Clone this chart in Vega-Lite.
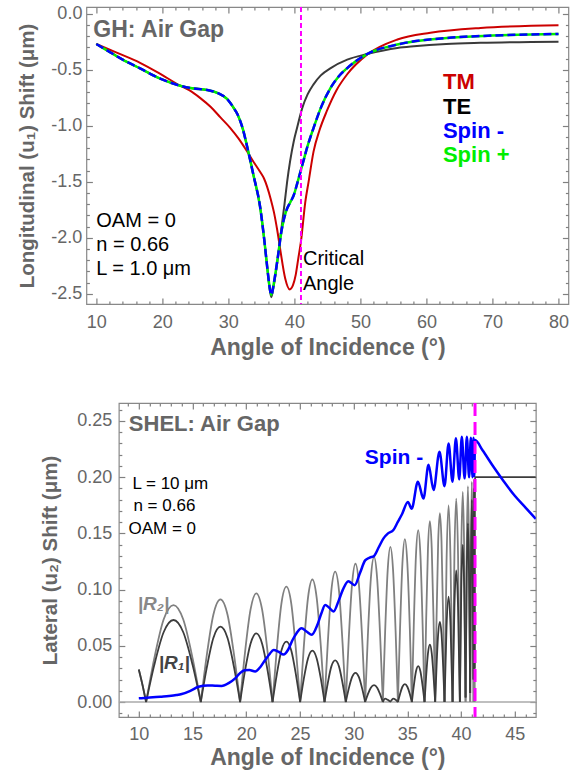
{
  "$schema": "https://vega.github.io/schema/vega-lite/v6.json",
  "padding": {"left": 17, "top": 4, "right": 5, "bottom": 5},
  "center": true,
  "spacing": 40,
  "config": {
    "font": "Liberation Sans",
    "view": {"stroke": "#888888", "strokeWidth": 1.2},
    "axis": {"grid": false, "domain": false, "tickColor": "#808080", "tickWidth": 1.2, "labelColor": "#666666", "labelFontSize": 18, "labelFont": "Liberation Sans", "labelFlush": false, "titleColor": "#666666", "titleFont": "Liberation Sans", "titleFontWeight": "bold"}
  },
  "datasets": {
    "gh": [
      {"s":"TM","x":10,"y":-0.27},{"s":"TM","x":13,"y":-0.345},{"s":"TM","x":16.7,"y":-0.44},{"s":"TM","x":19.5,"y":-0.53},{"s":"TM","x":22.7,"y":-0.642},{"s":"TM","x":24,"y":-0.68},{"s":"TM","x":25.8,"y":-0.755},{"s":"TM","x":27.3,"y":-0.83},{"s":"TM","x":28.8,"y":-0.925},{"s":"TM","x":30.3,"y":-1.02},{"s":"TM","x":31.5,"y":-1.11},{"s":"TM","x":32.8,"y":-1.225},{"s":"TM","x":33.8,"y":-1.32},{"s":"TM","x":34.8,"y":-1.41},{"s":"TM","x":35.4,"y":-1.47},{"s":"TM","x":36.4,"y":-1.65},{"s":"TM","x":36.9,"y":-1.77},{"s":"TM","x":37.4,"y":-1.93},{"s":"TM","x":37.9,"y":-2.12},{"s":"TM","x":38.6,"y":-2.36},{"s":"TM","x":39.3,"y":-2.46},{"s":"TM","x":39.8,"y":-2.42},{"s":"TM","x":40.2,"y":-2.33},{"s":"TM","x":40.6,"y":-2.18},{"s":"TM","x":41.0,"y":-2.03},{"s":"TM","x":41.65,"y":-1.68},{"s":"TM","x":42.15,"y":-1.5},{"s":"TM","x":42.9,"y":-1.23},{"s":"TM","x":43.8,"y":-1.04},{"s":"TM","x":44.9,"y":-0.87},{"s":"TM","x":46.4,"y":-0.68},{"s":"TM","x":48,"y":-0.54},{"s":"TM","x":51,"y":-0.365},{"s":"TM","x":55.6,"y":-0.23},{"s":"TM","x":60.6,"y":-0.17},{"s":"TM","x":68.2,"y":-0.127},{"s":"TM","x":80,"y":-0.103},
      {"s":"TE","x":10,"y":-0.27},{"s":"TE","x":12,"y":-0.34},{"s":"TE","x":14,"y":-0.41},{"s":"TE","x":16.7,"y":-0.49},{"s":"TE","x":19.5,"y":-0.575},{"s":"TE","x":22.7,"y":-0.642},{"s":"TE","x":24.5,"y":-0.665},{"s":"TE","x":26.8,"y":-0.68},{"s":"TE","x":28.5,"y":-0.71},{"s":"TE","x":29.8,"y":-0.76},{"s":"TE","x":30.8,"y":-0.84},{"s":"TE","x":31.4,"y":-0.9},{"s":"TE","x":32.2,"y":-1.03},{"s":"TE","x":32.9,"y":-1.2},{"s":"TE","x":33.8,"y":-1.44},{"s":"TE","x":34.8,"y":-1.72},{"s":"TE","x":35.5,"y":-2.05},{"s":"TE","x":35.9,"y":-2.27},{"s":"TE","x":36.2,"y":-2.43},{"s":"TE","x":36.5,"y":-2.53},{"s":"TE","x":36.9,"y":-2.42},{"s":"TE","x":37.4,"y":-2.22},{"s":"TE","x":37.9,"y":-1.98},{"s":"TE","x":38.5,"y":-1.7},{"s":"TE","x":38.9,"y":-1.5},{"s":"TE","x":39.9,"y":-1.14},{"s":"TE","x":40.4,"y":-1.02},{"s":"TE","x":41.2,"y":-0.84},{"s":"TE","x":42,"y":-0.72},{"s":"TE","x":42.9,"y":-0.63},{"s":"TE","x":44,"y":-0.55},{"s":"TE","x":45.5,"y":-0.485},{"s":"TE","x":48,"y":-0.41},{"s":"TE","x":51,"y":-0.36},{"s":"TE","x":55.6,"y":-0.305},{"s":"TE","x":58.1,"y":-0.29},{"s":"TE","x":63,"y":-0.27},{"s":"TE","x":68.2,"y":-0.26},{"s":"TE","x":80,"y":-0.25},
      {"s":"Spin","x":10,"y":-0.27},{"s":"Spin","x":12,"y":-0.34},{"s":"Spin","x":14,"y":-0.41},{"s":"Spin","x":16.7,"y":-0.49},{"s":"Spin","x":19.5,"y":-0.575},{"s":"Spin","x":22.7,"y":-0.642},{"s":"Spin","x":24.5,"y":-0.665},{"s":"Spin","x":26.8,"y":-0.68},{"s":"Spin","x":28.5,"y":-0.71},{"s":"Spin","x":29.8,"y":-0.76},{"s":"Spin","x":30.8,"y":-0.84},{"s":"Spin","x":31.4,"y":-0.9},{"s":"Spin","x":32.2,"y":-1.03},{"s":"Spin","x":32.9,"y":-1.2},{"s":"Spin","x":33.8,"y":-1.44},{"s":"Spin","x":34.8,"y":-1.72},{"s":"Spin","x":35.5,"y":-2.05},{"s":"Spin","x":35.9,"y":-2.27},{"s":"Spin","x":36.2,"y":-2.42},{"s":"Spin","x":36.5,"y":-2.51},{"s":"Spin","x":36.9,"y":-2.4},{"s":"Spin","x":37.4,"y":-2.21},{"s":"Spin","x":38.1,"y":-1.92},{"s":"Spin","x":38.7,"y":-1.77},{"s":"Spin","x":39.4,"y":-1.68},{"s":"Spin","x":39.9,"y":-1.62},{"s":"Spin","x":40.4,"y":-1.52},{"s":"Spin","x":41.2,"y":-1.35},{"s":"Spin","x":42,"y":-1.18},{"s":"Spin","x":42.9,"y":-1.02},{"s":"Spin","x":44,"y":-0.84},{"s":"Spin","x":45.5,"y":-0.66},{"s":"Spin","x":46.7,"y":-0.56},{"s":"Spin","x":48,"y":-0.485},{"s":"Spin","x":51,"y":-0.36},{"s":"Spin","x":55.6,"y":-0.275},{"s":"Spin","x":63.1,"y":-0.216},{"s":"Spin","x":70,"y":-0.195},{"s":"Spin","x":80,"y":-0.18}
    ],
    "shel": [
      {"a":0,"x":10,"r1":0.029,"r2":0.029},{"a":0,"x":10.35,"r1":0.015,"r2":0.015},{"a":0,"x":10.68,"r1":0,"r2":0},
      {"a":1,"x":10.68,"r1":0,"r2":0},{"a":1,"x":11.44,"r1":0.0329,"r2":0.0388},{"a":1,"x":12.31,"r1":0.0621,"r2":0.0734},{"a":1,"x":13.23,"r1":0.073,"r2":0.0863},{"a":1,"x":14.14,"r1":0.0621,"r2":0.0734},{"a":1,"x":15.01,"r1":0.0329,"r2":0.0388},{"a":1,"x":15.77,"r1":0,"r2":0},
      {"a":2,"x":15.77,"r1":0,"r2":0},{"a":2,"x":16.32,"r1":0.0302,"r2":0.0411},{"a":2,"x":16.94,"r1":0.057,"r2":0.0777},{"a":2,"x":17.6,"r1":0.067,"r2":0.0914},{"a":2,"x":18.26,"r1":0.057,"r2":0.0777},{"a":2,"x":18.88,"r1":0.0302,"r2":0.0411},{"a":2,"x":19.43,"r1":0,"r2":0},
      {"a":3,"x":19.43,"r1":0,"r2":0},{"a":3,"x":19.88,"r1":0.0275,"r2":0.0435},{"a":3,"x":20.4,"r1":0.0519,"r2":0.0822},{"a":3,"x":20.94,"r1":0.061,"r2":0.0967},{"a":3,"x":21.48,"r1":0.0519,"r2":0.0822},{"a":3,"x":22.0,"r1":0.0275,"r2":0.0435},{"a":3,"x":22.45,"r1":0,"r2":0},
      {"a":4,"x":22.45,"r1":0,"r2":0},{"a":4,"x":22.84,"r1":0.0242,"r2":0.0462},{"a":4,"x":23.27,"r1":0.0456,"r2":0.0872},{"a":4,"x":23.74,"r1":0.0537,"r2":0.1026},{"a":4,"x":24.2,"r1":0.0456,"r2":0.0872},{"a":4,"x":24.63,"r1":0.0242,"r2":0.0462},{"a":4,"x":25.02,"r1":0,"r2":0},
      {"a":5,"x":25.02,"r1":0,"r2":0},{"a":5,"x":25.36,"r1":0.0206,"r2":0.0491},{"a":5,"x":25.75,"r1":0.0388,"r2":0.0927},{"a":5,"x":26.16,"r1":0.0457,"r2":0.109},{"a":5,"x":26.56,"r1":0.0388,"r2":0.0927},{"a":5,"x":26.95,"r1":0.0206,"r2":0.0491},{"a":5,"x":27.29,"r1":0,"r2":0},
      {"a":6,"x":27.29,"r1":0,"r2":0},{"a":6,"x":27.59,"r1":0.0167,"r2":0.0522},{"a":6,"x":27.92,"r1":0.0315,"r2":0.0986},{"a":6,"x":28.28,"r1":0.037,"r2":0.116},{"a":6,"x":28.64,"r1":0.0315,"r2":0.0986},{"a":6,"x":28.97,"r1":0.0167,"r2":0.0522},{"a":6,"x":29.27,"r1":0,"r2":0},
      {"a":7,"x":29.27,"r1":0,"r2":0},{"a":7,"x":29.54,"r1":0.0117,"r2":0.0554},{"a":7,"x":29.85,"r1":0.0221,"r2":0.1046},{"a":7,"x":30.17,"r1":0.026,"r2":0.123},{"a":7,"x":30.49,"r1":0.0221,"r2":0.1046},{"a":7,"x":30.8,"r1":0.0117,"r2":0.0554},{"a":7,"x":31.07,"r1":0,"r2":0},
      {"a":8,"x":31.07,"r1":0,"r2":0},{"a":8,"x":31.32,"r1":0.0068,"r2":0.0581},{"a":8,"x":31.6,"r1":0.0128,"r2":0.1097},{"a":8,"x":31.9,"r1":0.015,"r2":0.129},{"a":8,"x":32.19,"r1":0.0128,"r2":0.1097},{"a":8,"x":32.47,"r1":0.0068,"r2":0.0581},{"a":8,"x":32.72,"r1":0,"r2":0},
      {"a":9,"x":32.72,"r1":0,"r2":0},{"a":9,"x":32.93,"r1":0.003,"r2":0.0621},{"a":9,"x":33.17,"r1":0.002,"r2":0.1173},{"a":9,"x":33.42,"r1":0.0005,"r2":0.138},{"a":9,"x":33.67,"r1":0.003,"r2":0.1173},{"a":9,"x":33.91,"r1":0.002,"r2":0.0621},{"a":9,"x":34.12,"r1":0,"r2":0},
      {"a":10,"x":34.12,"r1":0,"r2":0},{"a":10,"x":34.32,"r1":0.0072,"r2":0.0653},{"a":10,"x":34.54,"r1":0.0136,"r2":0.1233},{"a":10,"x":34.77,"r1":0.016,"r2":0.145},{"a":10,"x":35.0,"r1":0.0136,"r2":0.1233},{"a":10,"x":35.23,"r1":0.0072,"r2":0.0653},{"a":10,"x":35.42,"r1":0,"r2":0},
      {"a":11,"x":35.42,"r1":0,"r2":0},{"a":11,"x":35.6,"r1":0.0144,"r2":0.0689},{"a":11,"x":35.8,"r1":0.0272,"r2":0.1301},{"a":11,"x":36.01,"r1":0.032,"r2":0.153},{"a":11,"x":36.22,"r1":0.0272,"r2":0.1301},{"a":11,"x":36.42,"r1":0.0144,"r2":0.0689},{"a":11,"x":36.6,"r1":0,"r2":0},
      {"a":12,"x":36.6,"r1":0,"r2":0},{"a":12,"x":36.75,"r1":0.023,"r2":0.0725},{"a":12,"x":36.92,"r1":0.0434,"r2":0.1369},{"a":12,"x":37.1,"r1":0.051,"r2":0.161},{"a":12,"x":37.27,"r1":0.0434,"r2":0.1369},{"a":12,"x":37.44,"r1":0.023,"r2":0.0725},{"a":12,"x":37.59,"r1":0,"r2":0},
      {"a":13,"x":37.59,"r1":0,"r2":0},{"a":13,"x":37.72,"r1":0.0321,"r2":0.0756},{"a":13,"x":37.87,"r1":0.0607,"r2":0.1428},{"a":13,"x":38.03,"r1":0.0714,"r2":0.168},{"a":13,"x":38.18,"r1":0.0607,"r2":0.1428},{"a":13,"x":38.33,"r1":0.0321,"r2":0.0756},{"a":13,"x":38.46,"r1":0,"r2":0},
      {"a":14,"x":38.46,"r1":0,"r2":0},{"a":14,"x":38.65,"r1":0.0675,"r2":0.126},{"a":14,"x":38.84,"r1":0.0937,"r2":0.175},{"a":14,"x":39.02,"r1":0.0675,"r2":0.126},{"a":14,"x":39.21,"r1":0,"r2":0},
      {"a":15,"x":39.21,"r1":0,"r2":0},{"a":15,"x":39.38,"r1":0.0842,"r2":0.1303},{"a":15,"x":39.55,"r1":0.117,"r2":0.181},{"a":15,"x":39.72,"r1":0.0842,"r2":0.1303},{"a":15,"x":39.89,"r1":0,"r2":0},
      {"a":16,"x":39.89,"r1":0,"r2":0},{"a":16,"x":40.02,"r1":0.1008,"r2":0.1346},{"a":16,"x":40.16,"r1":0.14,"r2":0.187},{"a":16,"x":40.29,"r1":0.1008,"r2":0.1346},{"a":16,"x":40.42,"r1":0.004,"r2":0},
      {"a":17,"x":40.42,"r1":0.004,"r2":0},{"a":17,"x":40.53,"r1":0.1145,"r2":0.1382},{"a":17,"x":40.64,"r1":0.159,"r2":0.192},{"a":17,"x":40.74,"r1":0.1145,"r2":0.1382},{"a":17,"x":40.85,"r1":0.008,"r2":0},
      {"a":18,"x":40.85,"r1":0.008,"r2":0},{"a":18,"x":40.93,"r1":0.13,"r2":0.141},{"a":18,"x":41.0,"r1":0.18,"r2":0.196},{"a":18,"x":41.08,"r1":0.13,"r2":0.141},{"a":18,"x":41.16,"r1":0.02,"r2":0},
      {"a":19,"x":41.16,"r1":0.02,"r2":0},{"a":19,"x":41.18,"r1":0.137,"r2":0.143},{"a":19,"x":41.205,"r1":0.19,"r2":0.198},{"a":19,"x":41.23,"r1":0.137,"r2":0.143},{"a":19,"x":41.25,"r1":0.03,"r2":0},
      {"a":20,"x":41.25,"r1":0.03,"r2":0},{"a":20,"x":41.27,"r1":0.17,"r2":0.17},{"a":20,"x":41.3,"r1":0.2,"r2":0.2},{"a":20,"x":46.96,"r1":0.2,"r2":null}
    ],
    "spin2": [
      {"x":10,"y":0.0033},{"x":11,"y":0.004},{"x":12,"y":0.0048},{"x":12.8,"y":0.0054},{"x":13.5,"y":0.0062},{"x":14.0,"y":0.0071},{"x":14.8,"y":0.01},{"x":15.56,"y":0.0136},{"x":16.4,"y":0.0148},{"x":17.1,"y":0.0145},{"x":17.7,"y":0.0143},{"x":18.4,"y":0.017},{"x":18.97,"y":0.021},{"x":19.4,"y":0.0255},{"x":19.85,"y":0.0283},{"x":20.3,"y":0.0285},{"x":20.83,"y":0.0272},{"x":21.3,"y":0.031},{"x":21.76,"y":0.0374},{"x":22.2,"y":0.043},{"x":22.54,"y":0.0463},{"x":23.0,"y":0.0448},{"x":23.47,"y":0.0422},{"x":23.9,"y":0.0465},{"x":24.3,"y":0.055},{"x":24.7,"y":0.0615},{"x":25.15,"y":0.0656},{"x":25.65,"y":0.0625},{"x":26.1,"y":0.0598},{"x":26.6,"y":0.068},{"x":27.0,"y":0.079},{"x":27.35,"y":0.0863},{"x":27.7,"y":0.0842},{"x":28.13,"y":0.0806},{"x":28.6,"y":0.09},{"x":29.0,"y":0.1},{"x":29.5,"y":0.1075},{"x":30.1,"y":0.104},{"x":30.6,"y":0.115},{"x":31.07,"y":0.126},{"x":31.5,"y":0.1285},{"x":31.9,"y":0.13},{"x":32.3,"y":0.137},{"x":32.78,"y":0.1456},{"x":33.2,"y":0.15},{"x":33.7,"y":0.153},{"x":34.1,"y":0.16},{"x":34.5,"y":0.167},{"x":35.05,"y":0.178},{"x":35.4,"y":0.172},{"x":35.98,"y":0.196},{"x":36.5,"y":0.181},{"x":36.97,"y":0.211},{"x":37.44,"y":0.1886},{"x":37.99,"y":0.2227},{"x":38.46,"y":0.192},{"x":38.84,"y":0.23},{"x":39.2,"y":0.196},{"x":39.52,"y":0.2346},{"x":39.83,"y":0.198},{"x":40.07,"y":0.236},{"x":40.33,"y":0.199},{"x":40.54,"y":0.236},{"x":40.75,"y":0.2},{"x":40.91,"y":0.235},{"x":41.07,"y":0.2},{"x":41.16,"y":0.235},{"x":41.23,"y":0.201},{"x":41.3,"y":0.233},{"x":42,"y":0.224},{"x":43,"y":0.2095},{"x":44,"y":0.196},{"x":45,"y":0.1835},{"x":46,"y":0.173},{"x":46.96,"y":0.163}
    ]
  },
  "vconcat": [
    {
      "width": 482,
      "height": 297,
      "resolve": {"axis": {"x": "independent", "y": "independent"}},
      "layer": [
        {
          "data": {"name": "gh"},
          "transform": [{"filter": "datum.s == 'TE'"}],
          "mark": {"type": "line", "interpolate": "monotone", "stroke": "#3a3a3a", "strokeWidth": 2, "clip": true},
          "encoding": {
            "x": {"field": "x", "type": "quantitative", "scale": {"domain": [8.5, 81.5], "nice": false, "zero": false},
                  "axis": {"orient": "bottom", "values": [10,20,30,40,50,60,70,80], "format": "d", "offset": -6, "tickSize": 6, "labelPadding": 9, "title": "Angle of Incidence (°)", "titleFontSize": 23, "titlePadding": 5}},
            "y": {"field": "y", "type": "quantitative", "scale": {"domain": [-2.59, 0.06], "nice": false, "zero": false},
                  "axis": {"orient": "left", "values": [-2.5,-2,-1.5,-1,-0.5,0], "format": ".1f", "labelExpr": "replace(datum.label, '−', '-')", "offset": -6, "tickSize": 6, "labelPadding": 4.5, "title": "Longitudinal (u₁) Shift (μm)", "titleFontSize": 20.5, "titlePadding": 13}}
          }
        },
        {
          "data": {"name": "gh"},
          "transform": [{"filter": "datum.s == 'TM'"}],
          "mark": {"type": "line", "interpolate": "monotone", "stroke": "#cc0000", "strokeWidth": 2, "clip": true},
          "encoding": {
            "x": {"field": "x", "type": "quantitative", "scale": {"domain": [8.5, 81.5], "nice": false, "zero": false},
                  "axis": {"orient": "bottom", "values": [12,14,16,18,22,24,26,28,32,34,36,38,42,44,46,48,52,54,56,58,62,64,66,68,72,74,76,78], "labels": false, "offset": -3, "tickSize": 3, "title": null}},
            "y": {"field": "y", "type": "quantitative", "scale": {"domain": [-2.59, 0.06], "nice": false, "zero": false},
                  "axis": {"orient": "left", "values": [-2.4,-2.3,-2.2,-2.1,-1.9,-1.8,-1.7,-1.6,-1.4,-1.3,-1.2,-1.1,-0.9,-0.8,-0.7,-0.6,-0.4,-0.3,-0.2,-0.1], "labels": false, "offset": -3, "tickSize": 3, "title": null}}
          }
        },
        {
          "data": {"name": "gh"},
          "transform": [{"filter": "datum.s == 'Spin'"}],
          "mark": {"type": "line", "interpolate": "monotone", "stroke": "#00ee00", "strokeWidth": 2.5, "clip": true},
          "encoding": {
            "x": {"field": "x", "type": "quantitative", "scale": {"domain": [8.5, 81.5], "nice": false, "zero": false},
                  "axis": {"orient": "top", "values": [10,20,30,40,50,60,70,80], "labels": false, "offset": -6, "tickSize": 6, "title": null}},
            "y": {"field": "y", "type": "quantitative", "scale": {"domain": [-2.59, 0.06], "nice": false, "zero": false},
                  "axis": {"orient": "right", "values": [-2.5,-2,-1.5,-1,-0.5,0], "labels": false, "offset": -6, "tickSize": 6, "title": null}}
          }
        },
        {
          "data": {"name": "gh"},
          "transform": [{"filter": "datum.s == 'Spin'"}],
          "mark": {"type": "line", "interpolate": "monotone", "stroke": "#0000ff", "strokeWidth": 2.5, "strokeDash": [8, 4], "clip": true},
          "encoding": {
            "x": {"field": "x", "type": "quantitative", "scale": {"domain": [8.5, 81.5], "nice": false, "zero": false},
                  "axis": {"orient": "top", "values": [12,14,16,18,22,24,26,28,32,34,36,38,42,44,46,48,52,54,56,58,62,64,66,68,72,74,76,78], "labels": false, "offset": -3, "tickSize": 3, "title": null}},
            "y": {"field": "y", "type": "quantitative", "scale": {"domain": [-2.59, 0.06], "nice": false, "zero": false},
                  "axis": {"orient": "right", "values": [-2.4,-2.3,-2.2,-2.1,-1.9,-1.8,-1.7,-1.6,-1.4,-1.3,-1.2,-1.1,-0.9,-0.8,-0.7,-0.6,-0.4,-0.3,-0.2,-0.1], "labels": false, "offset": -3, "tickSize": 3, "title": null}}
          }
        },
        {
          "data": {"values": [{"x": 41.0}]},
          "mark": {"type": "rule", "stroke": "#ff00ff", "strokeWidth": 2, "strokeDash": [5, 3]},
          "encoding": {
            "x": {"field": "x", "type": "quantitative", "scale": {"domain": [8.5, 81.5], "nice": false, "zero": false}, "axis": null}
          }
        },
        {
          "data": {"values": [{"t": "GH: Air Gap", "x": 9.55, "y": -0.211}]},
          "mark": {"type": "text", "align": "left", "baseline": "alphabetic", "fontSize": 23, "fontWeight": "bold", "color": "#666666"},
          "encoding": {
            "x": {"field": "x", "type": "quantitative", "scale": {"domain": [8.5, 81.5], "nice": false, "zero": false}, "axis": null},
            "y": {"field": "y", "type": "quantitative", "scale": {"domain": [-2.59, 0.06], "nice": false, "zero": false}, "axis": null},
            "text": {"field": "t"}
          }
        },
        {
          "data": {"values": [{"t": "TM", "x": 62.5, "y": -0.675}, {"t": "TE", "x": 62.5, "y": -0.899}, {"t": "Spin -", "x": 62.5, "y": -1.111}, {"t": "Spin +", "x": 62.5, "y": -1.319}]},
          "mark": {"type": "text", "align": "left", "baseline": "alphabetic", "fontSize": 22, "fontWeight": "bold"},
          "encoding": {
            "x": {"field": "x", "type": "quantitative", "scale": {"domain": [8.5, 81.5], "nice": false, "zero": false}, "axis": null},
            "y": {"field": "y", "type": "quantitative", "scale": {"domain": [-2.59, 0.06], "nice": false, "zero": false}, "axis": null},
            "text": {"field": "t"},
            "color": {"field": "t", "type": "nominal", "scale": {"domain": ["TM", "TE", "Spin -", "Spin +"], "range": ["#cc0000", "#000000", "#0000ff", "#00ee00"]}, "legend": null}
          }
        },
        {
          "data": {"values": [{"t": "OAM = 0", "x": 10, "y": -1.907}, {"t": "n = 0.66", "x": 10, "y": -2.115}, {"t": "L = 1.0 μm", "x": 10, "y": -2.327}, {"t": "Critical", "x": 41.3, "y": -2.243}, {"t": "Angle", "x": 41.3, "y": -2.461}]},
          "mark": {"type": "text", "align": "left", "baseline": "alphabetic", "fontSize": 20, "color": "#000000"},
          "encoding": {
            "x": {"field": "x", "type": "quantitative", "scale": {"domain": [8.5, 81.5], "nice": false, "zero": false}, "axis": null},
            "y": {"field": "y", "type": "quantitative", "scale": {"domain": [-2.59, 0.06], "nice": false, "zero": false}, "axis": null},
            "text": {"field": "t"}
          }
        }
      ]
    },
    {
      "width": 417,
      "height": 314,
      "resolve": {"axis": {"x": "independent", "y": "independent"}},
      "layer": [
        {
          "data": {"values": [{"y": 0}]},
          "mark": {"type": "rule", "stroke": "#aaaaaa", "strokeWidth": 1.5},
          "encoding": {
            "y": {"field": "y", "type": "quantitative", "scale": {"domain": [-0.0133, 0.266], "nice": false, "zero": false}, "axis": null}
          }
        },
        {
          "data": {"name": "shel"},
          "mark": {"type": "line", "interpolate": "monotone", "stroke": "#808080", "strokeWidth": 1.8, "clip": true},
          "encoding": {
            "x": {"field": "x", "type": "quantitative", "scale": {"domain": [8.14, 46.96], "nice": false, "zero": false},
                  "axis": {"orient": "bottom", "values": [10,15,20,25,30,35,40,45], "format": "d", "offset": -6, "tickSize": 6, "labelPadding": 8, "title": "Angle of Incidence (°)", "titleFontSize": 23, "titlePadding": 3}},
            "y": {"field": "r2", "type": "quantitative", "scale": {"domain": [-0.0133, 0.266], "nice": false, "zero": false},
                  "axis": {"orient": "left", "values": [0,0.05,0.1,0.15,0.2,0.25], "format": ".2f", "offset": -6, "tickSize": 6, "labelPadding": 7, "title": "Lateral (u₂) Shift (μm)", "titleFontSize": 20.5, "titlePadding": 16}},
            "detail": {"field": "a", "type": "nominal"}
          }
        },
        {
          "data": {"name": "shel"},
          "mark": {"type": "line", "interpolate": "monotone", "stroke": "#3c3c3c", "strokeWidth": 1.8, "clip": true},
          "encoding": {
            "x": {"field": "x", "type": "quantitative", "scale": {"domain": [8.14, 46.96], "nice": false, "zero": false},
                  "axis": {"orient": "bottom", "values": [9,11,12,13,14,16,17,18,19,21,22,23,24,26,27,28,29,31,32,33,34,36,37,38,39,41,42,43,44,46], "labels": false, "offset": -3, "tickSize": 3, "title": null}},
            "y": {"field": "r1", "type": "quantitative", "scale": {"domain": [-0.0133, 0.266], "nice": false, "zero": false},
                  "axis": {"orient": "left", "values": [-0.01,0.01,0.02,0.03,0.04,0.06,0.07,0.08,0.09,0.11,0.12,0.13,0.14,0.16,0.17,0.18,0.19,0.21,0.22,0.23,0.24,0.26], "labels": false, "offset": -3, "tickSize": 3, "title": null}},
            "detail": {"field": "a", "type": "nominal"}
          }
        },
        {
          "data": {"name": "spin2"},
          "mark": {"type": "line", "interpolate": "monotone", "stroke": "#0000ff", "strokeWidth": 2.5, "clip": true},
          "encoding": {
            "x": {"field": "x", "type": "quantitative", "scale": {"domain": [8.14, 46.96], "nice": false, "zero": false},
                  "axis": {"orient": "top", "values": [10,15,20,25,30,35,40,45], "labels": false, "offset": -6, "tickSize": 6, "title": null}},
            "y": {"field": "y", "type": "quantitative", "scale": {"domain": [-0.0133, 0.266], "nice": false, "zero": false},
                  "axis": {"orient": "right", "values": [0,0.05,0.1,0.15,0.2,0.25], "labels": false, "offset": -6, "tickSize": 6, "title": null}}
          }
        },
        {
          "data": {"values": [{"x": 41.3}]},
          "mark": {"type": "rule", "stroke": "#ff00ff", "strokeWidth": 3, "strokeDash": [13, 6]},
          "encoding": {
            "x": {"field": "x", "type": "quantitative", "scale": {"domain": [8.14, 46.96], "nice": false, "zero": false},
                  "axis": {"orient": "top", "values": [9,11,12,13,14,16,17,18,19,21,22,23,24,26,27,28,29,31,32,33,34,36,37,38,39,41,42,43,44,46], "labels": false, "offset": -3, "tickSize": 3, "title": null}}
          }
        },
        {
          "data": {"values": [{"t": "SHEL: Air Gap", "x": 9.07, "y": 0.2411}]},
          "mark": {"type": "text", "align": "left", "baseline": "alphabetic", "fontSize": 22, "fontWeight": "bold", "color": "#666666"},
          "encoding": {
            "x": {"field": "x", "type": "quantitative", "scale": {"domain": [8.14, 46.96], "nice": false, "zero": false}, "axis": null},
            "y": {"field": "y", "type": "quantitative", "scale": {"domain": [-0.0133, 0.266], "nice": false, "zero": false},
                  "axis": {"orient": "right", "values": [-0.01,0.01,0.02,0.03,0.04,0.06,0.07,0.08,0.09,0.11,0.12,0.13,0.14,0.16,0.17,0.18,0.19,0.21,0.22,0.23,0.24,0.26], "labels": false, "offset": -3, "tickSize": 3, "title": null}},
            "text": {"field": "t"}
          }
        },
        {
          "data": {"values": [{"t": "L = 10 μm", "x": 9.41, "y": 0.1893}, {"t": "n = 0.66", "x": 9.5, "y": 0.170}, {"t": "OAM = 0", "x": 9.04, "y": 0.1495}]},
          "mark": {"type": "text", "align": "left", "baseline": "alphabetic", "fontSize": 17, "color": "#000000"},
          "encoding": {
            "x": {"field": "x", "type": "quantitative", "scale": {"domain": [8.14, 46.96], "nice": false, "zero": false}, "axis": null},
            "y": {"field": "y", "type": "quantitative", "scale": {"domain": [-0.0133, 0.266], "nice": false, "zero": false}, "axis": null},
            "text": {"field": "t"}
          }
        },
        {
          "data": {"values": [{"t": "Spin -", "x": 31.04, "y": 0.212}]},
          "mark": {"type": "text", "align": "left", "baseline": "alphabetic", "fontSize": 21, "fontWeight": "bold", "color": "#0000ff"},
          "encoding": {
            "x": {"field": "x", "type": "quantitative", "scale": {"domain": [8.14, 46.96], "nice": false, "zero": false}, "axis": null},
            "y": {"field": "y", "type": "quantitative", "scale": {"domain": [-0.0133, 0.266], "nice": false, "zero": false}, "axis": null},
            "text": {"field": "t"}
          }
        },
        {
          "data": {"values": [{"t": "|R₂|", "x": 9.9, "y": 0.082}]},
          "mark": {"type": "text", "align": "left", "baseline": "alphabetic", "fontSize": 19, "fontWeight": "bold", "fontStyle": "italic", "color": "#888888"},
          "encoding": {
            "x": {"field": "x", "type": "quantitative", "scale": {"domain": [8.14, 46.96], "nice": false, "zero": false}, "axis": null},
            "y": {"field": "y", "type": "quantitative", "scale": {"domain": [-0.0133, 0.266], "nice": false, "zero": false}, "axis": null},
            "text": {"field": "t"}
          }
        },
        {
          "data": {"values": [{"t": "|R₁|", "x": 11.86, "y": 0.0296}]},
          "mark": {"type": "text", "align": "left", "baseline": "alphabetic", "fontSize": 19, "fontWeight": "bold", "fontStyle": "italic", "color": "#444444"},
          "encoding": {
            "x": {"field": "x", "type": "quantitative", "scale": {"domain": [8.14, 46.96], "nice": false, "zero": false}, "axis": null},
            "y": {"field": "y", "type": "quantitative", "scale": {"domain": [-0.0133, 0.266], "nice": false, "zero": false}, "axis": null},
            "text": {"field": "t"}
          }
        }
      ]
    }
  ]
}
